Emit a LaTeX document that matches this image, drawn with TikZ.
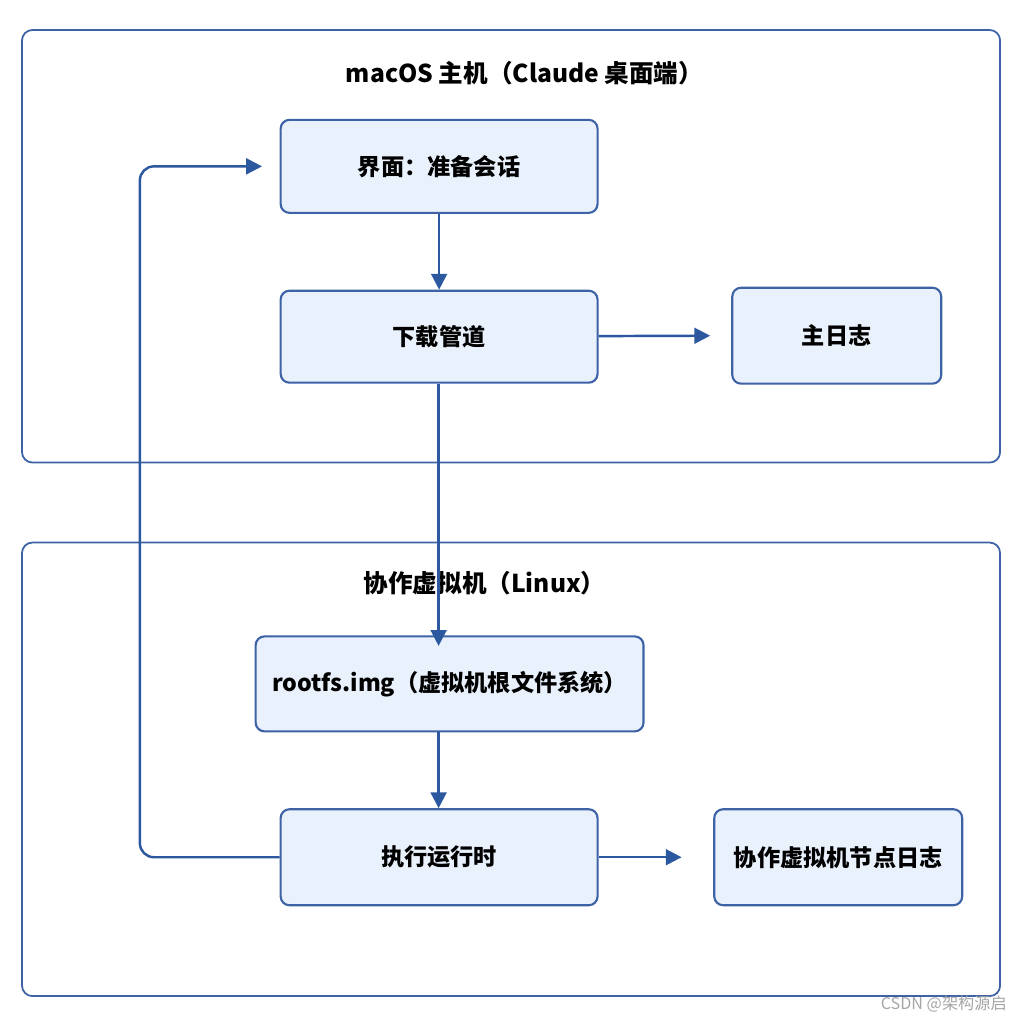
\documentclass[tikz,border=0pt]{standalone}
\usepackage{fontspec}
\setmainfont{Noto Sans CJK SC}
\usetikzlibrary{arrows.meta}
\definecolor{bd}{HTML}{3D62A6}
\definecolor{fl}{HTML}{E9F1FC}
\definecolor{ar}{HTML}{2C58A0}
\begin{document}
\begin{tikzpicture}[x=0.01cm,y=-0.01cm,
  box/.style={draw=bd,fill=fl,rounded corners=2.5pt,line width=0.6pt,font=\fontsize{6.6}{8}\selectfont\bfseries},
  group/.style={draw=bd,rounded corners=3pt,line width=0.5pt},
  conn/.style={draw=ar,line width=0.7pt,-{Triangle[length=4.5pt,width=4.5pt]}}]
\fill[white] (0,0) rectangle (1024,1024);
\draw[group] (22,30) rectangle (1001,463);
\draw[group] (22,543) rectangle (1001,997);
\node[font=\fontsize{7}{8}\selectfont\bfseries] (t1) at (525,73) {macOS 主机（Claude 桌面端）};
\node[font=\fontsize{7}{8}\selectfont\bfseries] (t2) at (485,584) {协作虚拟机（Linux）};
\node[box,minimum width=317\pgflinewidth,minimum width=3.17cm,minimum height=0.93cm] (ui) at (439.5,166.5) {界面：准备会话};
\node[box,minimum width=3.17cm,minimum height=0.92cm] (dl) at (439.5,337) {下载管道};
\node[box,minimum width=2.09cm,minimum height=0.96cm] (ml) at (837.5,336) {主日志};
\node[box,minimum width=3.88cm,minimum height=0.95cm] (rf) at (450,684.5) {rootfs.img（虚拟机根文件系统）};
\node[box,minimum width=3.17cm,minimum height=0.96cm] (ex) at (439.5,858) {执行运行时};
\node[box,minimum width=2.48cm,minimum height=0.96cm] (nl) at (839,858) {协作虚拟机节点日志};
\coordinate (c1) at (140,858);
\coordinate (c2) at (140,166.5);
\coordinate (d1) at (439,630);
\draw[conn] (ui) -- (dl);
\draw[conn] (dl) -- ([xshift=-6]ml.west);
\draw[conn] (dl.south -| d1) -- ([yshift=-3]rf.north -| d1);
\draw[conn] (rf.south -| d1) -- (ex.north -| d1);
\draw[conn] (ex) -- ([xshift=-9]nl.west);
\draw[conn,rounded corners=4pt] (ex.west) -- (c1) -- (c2) -- ([xshift=-5]ui.west);
\node[text=gray!70,font=\fontsize{4.6}{6}\selectfont,anchor=east] (wm) at (1020,1005) {CSDN @架构源启};
\end{tikzpicture}
\end{document}
